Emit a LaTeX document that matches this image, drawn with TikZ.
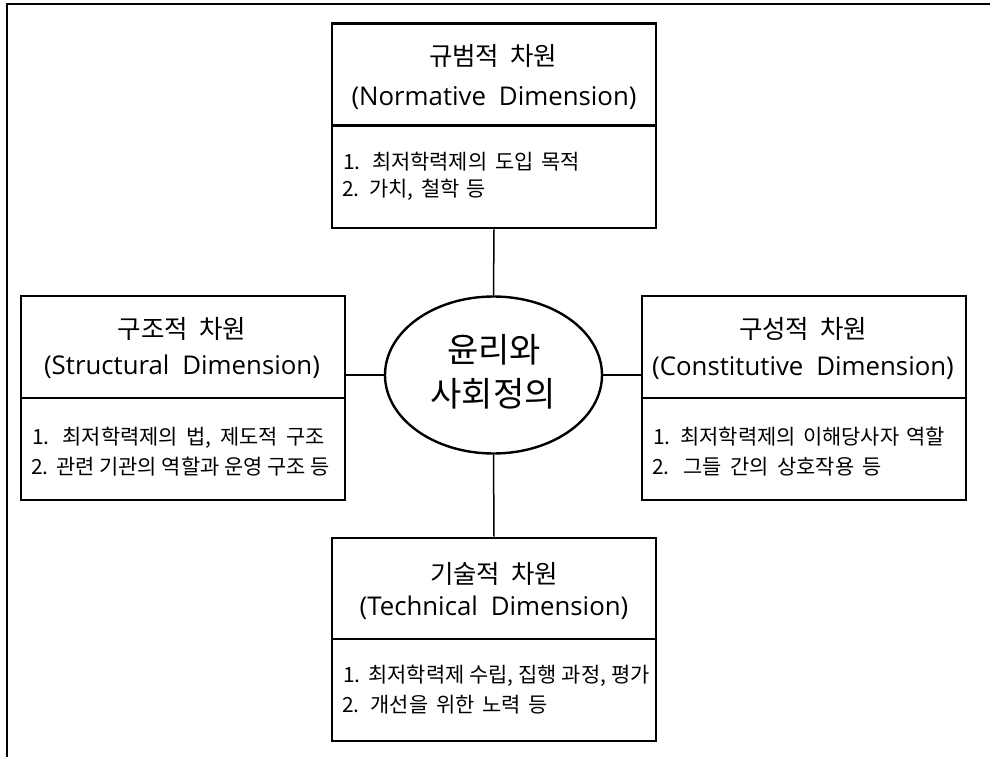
\documentclass[tikz,border=0pt]{standalone}
\usepackage{fontspec}
\setmainfont{Noto Sans CJK KR}[WordSpace=1.5]
\newfontfamily\latinf{Open Sans}
\usetikzlibrary{shapes.geometric}
\newcommand\bline[2]{\makebox[#1pt][s]{#2}}
\begin{document}
\begin{tikzpicture}[x=1pt,y=-1pt,
  box/.style={draw,line width=2.6pt,minimum width=324pt,minimum height=102pt,inner sep=0pt},
  ktitle/.style={inner sep=0pt,font=\fontsize{25.5}{30}\selectfont},
  etitle/.style={inner sep=0pt,font=\latinf\fontsize{25.8}{30}\selectfont},
  body/.style={inner sep=0pt,anchor=west,font=\fontsize{20.9}{24}\selectfont},
  ctext/.style={inner sep=0pt,font=\fontsize{34}{40}\selectfont},
  conn/.style={line width=1.5pt}]
\useasboundingbox (0,0) rectangle (990,757);
\coordinate (bl) at (7,757);
\coordinate (tl) at (7,4);
\coordinate (tr) at (990,4);
\draw[line width=2pt] (bl) -- (tl) -- (tr);

% boxes
\node[box] (th) at (494,74.5) {};
\node[box] (tb) at (494,177) {};
\node[box] (lh) at (183,347) {};
\node[box] (lb) at (183,449) {};
\node[box] (rh) at (804,347) {};
\node[box] (rb) at (804,449) {};
\node[box,minimum height=101pt] (bh) at (494,588.5) {};
\node[box] (bb) at (494,690) {};

% ellipse
\node[ellipse,draw,line width=2.4pt,minimum width=217pt,minimum height=157pt,inner sep=0pt] (ell) at (493.5,375) {};

% connectors
\draw[conn] (tb.south) -- (ell.north);
\draw[conn] (ell.south) -- (bh.north);
\draw[conn] (ell.west) -- (ell.west -| lh.east);
\draw[conn] (ell.east) -- (ell.east -| rh.west);

% titles
\node[ktitle] (t1) at (493,55.5) {규범적\hspace{0.42em}차원};
\node[etitle] (t2) at (494,98) {(Normative\hspace{0.5em}Dimension)};
\node[ktitle] (l1) at (182,329) {구조적\hspace{0.42em}차원};
\node[etitle] (l2) at (182,367) {(Structural\hspace{0.5em}Dimension)};
\node[ktitle] (r1) at (803,329) {구성적\hspace{0.42em}차원};
\node[etitle] (r2) at (803,368) {(Constitutive\hspace{0.5em}Dimension)};
\node[ktitle] (b1) at (494,574) {기술적\hspace{0.42em}차원};
\node[etitle] (b2) at (494,608) {(Technical\hspace{0.5em}Dimension)};

% centre
\node[ctext] (c1) at (494,350) {윤리와};
\node[ctext] (c2) at (493,394) {사회정의};

% bodies
\node[body] (tb1) at (343,162) {\bline{237}{1. 최저학력제의 도입 목적}};
\node[body] (tb2) at (342,190) {\bline{144}{2. 가치, 철학 등}};
\node[body] (lb1) at (32,438) {\bline{293}{1. 최저학력제의 법, 제도적 구조}};
\node[body] (lb2) at (31,467) {\bline{294}{2. 관련 기관의 역할과 운영 구조 등}};
\node[body] (rb1) at (653,436.5) {\bline{292}{1. 최저학력제의 이해당사자 역할}};
\node[body] (rb2) at (652,467) {\bline{230}{2. 그들 간의 상호작용 등}};
\node[body] (bb1) at (343,676) {\bline{303}{1. 최저학력제 수립, 집행 과정, 평가}};
\node[body] (bb2) at (342,705) {\bline{206}{2. 개선을 위한 노력 등}};
\end{tikzpicture}
\end{document}
